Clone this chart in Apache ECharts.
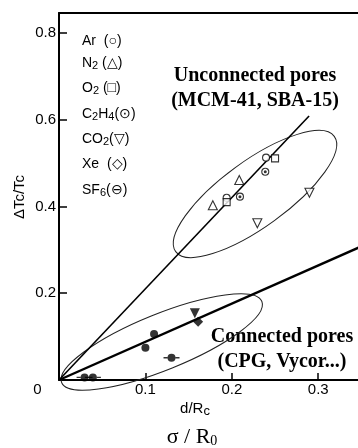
<html>
<head>
    <meta charset="utf-8">
    <title>Chart</title>
    <script src="https://cdn.jsdelivr.net/npm/echarts@6/dist/echarts.min.js"></script>
    <style>
        html, body { margin: 0; padding: 0; width: 358px; height: 448px; background: #fff; }
        #main { width: 358px; height: 448px; }
    </style>
</head>
<body>
    <div id="main"></div>
    <script type="text/javascript">
        // axis ticks
        var xTicks = [0.1, 0.2, 0.3];
        var xLabels = [0, 0.1, 0.2, 0.3];
        var yTicks = [0.2, 0.4, 0.6, 0.8];

        // unconnected pores (MCM-41, SBA-15) : open symbols
        var arOpen = [[0.2396, 0.5125], [0.194, 0.420]];
        var n2Open = [[0.2086, 0.461], [0.178, 0.403]];
        var o2Open = [[0.25, 0.511], [0.194, 0.410]];
        var c2h4Open = [[0.2387, 0.480], [0.2094, 0.4226]];
        var co2Open = [[0.2898, 0.4318], [0.2295, 0.3613]];

        // connected pores (CPG, Vycor) : filled symbols
        var arFilled = [[0.1, 0.0745]];
        var c2h4Filled = [[0.11, 0.106]];
        var co2Filled = [[0.1572, 0.1538]];
        var xeFilled = [[0.161, 0.1344]];
        var sf6Filled = [[0.0296, 0.006], [0.0392, 0.006], [0.1302, 0.0514]];

        // straight lines through origin
        var fitUnconnected = [[0, 0], [0.2894, 0.6087]];
        var fitConnected = [[0, 0], [0.35, 0.308]];

        // ellipse centres (data units)
        var ellipseCenters = [[0.2268, 0.4288], [0.1189, 0.0876]];

        // legend lines (rich text, s = subscript)
        var gasLabels = [
            '{n|Ar  (○)}',
            '{n|N}{s|2}{n| (△)}',
            '{n|O}{s|2}{n| (□)}',
            '{n|C}{s|2}{n|H}{s|4}{n|(⊙)}',
            '{n|CO}{s|2}{n|(▽)}',
            '{n|Xe  (◇)}',
            '{n|SF}{s|6}{n|(⊖)}'
        ];

        var ellipseShapes = [
            { rx: 98, ry: 33, angle: 36 },
            { rx: 108, ry: 28, angle: 22 }
        ];
        var sans = '"Liberation Sans", Arial, sans-serif';
        var serif = '"Liberation Serif", "Times New Roman", serif';
        // filled dot with a short horizontal bar on each side
        var sf6Path = 'path://M0,4.4H3.6V5.6H0Z M10.4,4.4H14V5.6H10.4Z M3.5,5a3.5,3.5 0 1,0 7,0a3.5,3.5 0 1,0 -7,0Z';

        var myChart = echarts.init(document.getElementById('main'));

        function openSeries(data, symbol, rotate) {
            return {
                type: 'scatter', data: data, symbol: symbol, symbolSize: symbol === 'triangle' ? 9 : 7,
                symbolRotate: rotate || 0, z: 5,
                itemStyle: { color: '#fff', borderColor: '#000', borderWidth: 1.1 }
            };
        }
        function filledSeries(data, symbol, size, rotate) {
            return {
                type: 'scatter', data: data, symbol: symbol, symbolSize: size,
                symbolRotate: rotate || 0, symbolKeepAspect: true, z: 5,
                itemStyle: { color: '#000' }
            };
        }

        var graphics = [];
        var legendY = [41, 63, 88, 114, 139, 164, 190];
        for (var i = 0; i < gasLabels.length; i++) {
            graphics.push({
                type: 'text', x: 82, y: legendY[i],
                style: {
                    text: gasLabels[i], fill: '#000', align: 'left', verticalAlign: 'middle',
                    rich: {
                        n: { font: '14px ' + sans, fill: '#000' },
                        s: { font: '11px ' + sans, fill: '#000', padding: [6, 0, 0, 0] }
                    }
                }
            });
        }
        graphics.push(
            { type: 'text', x: 255, y: 76, style: { text: 'Unconnected pores', font: 'bold 20px ' + serif, fill: '#000', align: 'center', verticalAlign: 'middle' } },
            { type: 'text', x: 255, y: 101, style: { text: '(MCM-41, SBA-15)', font: 'bold 20px ' + serif, fill: '#000', align: 'center', verticalAlign: 'middle' } },
            { type: 'text', x: 282, y: 337, style: { text: 'Connected pores', font: 'bold 20px ' + serif, fill: '#000', align: 'center', verticalAlign: 'middle' } },
            { type: 'text', x: 282, y: 362, style: { text: '(CPG, Vycor...)', font: 'bold 20px ' + serif, fill: '#000', align: 'center', verticalAlign: 'middle' } },
            { type: 'text', x: 20, y: 197, rotation: Math.PI / 2,
              style: { text: 'ΔTc/Tc', font: '15px ' + sans, fill: '#000', align: 'center', verticalAlign: 'middle' } },
            { type: 'text', x: 195, y: 409,
              style: { text: '{a|d/R}{b|c}', fill: '#000', align: 'center', verticalAlign: 'middle',
                       rich: { a: { font: '15px ' + sans, fill: '#000' }, b: { font: '13px ' + sans, fill: '#000', padding: [5, 0, 0, 0] } } } },
            { type: 'text', x: 192, y: 437,
              style: { text: '{a|σ / R}{b|0}', fill: '#000', align: 'center', verticalAlign: 'middle',
                       rich: { a: { font: '22px ' + serif, fill: '#000' }, b: { font: '14px ' + serif, fill: '#000', padding: [8, 0, 0, 0] } } } }
        );

        var option = {
            animation: false,
            grid: { left: 59, top: 13, right: 0, bottom: 68, containLabel: false, outerBoundsMode: 'none' },
            xAxis: [{
                type: 'value', min: 0, max: 0.346,
                splitLine: { show: false },
                axisLine: { lineStyle: { color: '#000', width: 2 } },
                axisTick: { inside: true, length: 7, customValues: xTicks, lineStyle: { color: '#000', width: 1.5 } },
                axisLabel: {
                    customValues: xLabels, margin: 2, color: '#000', fontFamily: sans, fontSize: 15,
                    formatter: function (v) { return v === 0 ? '{z|0}' : String(v); },
                    rich: { z: { padding: [0, 43, 0, 0], fontFamily: sans, fontSize: 15, color: '#000' } }
                }
            }, {
                type: 'value', position: 'top', min: 0, max: 0.346,
                splitLine: { show: false }, axisTick: { show: false }, axisLabel: { show: false },
                axisLine: { lineStyle: { color: '#000', width: 2 } }
            }],
            yAxis: {
                type: 'value', min: 0, max: 0.846,
                splitLine: { show: false },
                axisLine: { lineStyle: { color: '#000', width: 2 } },
                axisTick: { inside: true, length: 8, customValues: yTicks, lineStyle: { color: '#000', width: 1.5 } },
                axisLabel: { customValues: yTicks, margin: 3, color: '#000', fontFamily: sans, fontSize: 15 }
            },
            graphic: graphics,
            series: [
                {
                    type: 'custom', data: ellipseCenters, clip: false, z: 2,
                    encode: { x: 0, y: 1 },
                    renderItem: function (params, api) {
                        var p = api.coord([api.value(0), api.value(1)]);
                        var s = ellipseShapes[params.dataIndex];
                        return {
                            type: 'ellipse', x: p[0], y: p[1], rotation: s.angle * Math.PI / 180,
                            shape: { cx: 0, cy: 0, rx: s.rx, ry: s.ry },
                            style: { fill: 'none', stroke: '#222', lineWidth: 1 }
                        };
                    }
                },
                { type: 'line', data: fitUnconnected, symbol: 'none', z: 3, lineStyle: { color: '#000', width: 1.6 } },
                { type: 'line', data: fitConnected, symbol: 'none', z: 3, lineStyle: { color: '#000', width: 2.4 } },
                openSeries(arOpen, 'circle'),
                openSeries(n2Open, 'triangle'),
                openSeries(o2Open, 'rect'),
                openSeries(c2h4Open, 'circle'),
                filledSeries(c2h4Open, 'circle', 3),
                openSeries(co2Open, 'triangle', 180),
                filledSeries(arFilled, 'circle', 8),
                filledSeries(c2h4Filled, 'circle', 8),
                filledSeries(co2Filled, 'triangle', 10, 180),
                filledSeries(xeFilled, 'diamond', 10),
                filledSeries(sf6Filled, sf6Path, 16)
            ]
        };
        myChart.setOption(option);
    </script>
</body>
</html>
